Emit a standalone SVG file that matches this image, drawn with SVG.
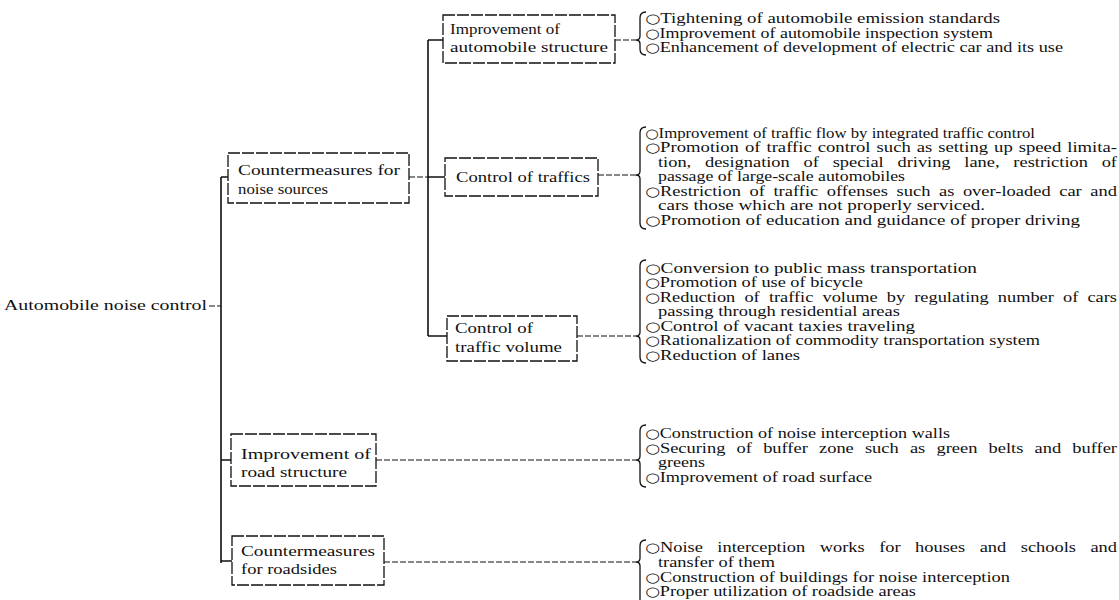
<svg xmlns="http://www.w3.org/2000/svg" width="1119" height="600" viewBox="0 0 1119 600">
<style>
text{font-family:"Liberation Serif","Times New Roman",serif;font-size:14px;fill:#111}
.b{font-family:"DejaVu Sans",sans-serif;font-size:13px}
.box{fill:#fff;stroke:#111;stroke-width:1.3;stroke-dasharray:12 2}
.trunk{fill:none;stroke:#111;stroke-width:1.6}
.dash{fill:none;stroke:#111;stroke-width:1.2;stroke-dasharray:6 2}
.brace{fill:none;stroke:#111;stroke-width:1.3}
</style>
<rect width="1119" height="600" fill="#fff"/>
<g id="connectors">
<path class="dash" d="M209 306 H221"/>
<path class="trunk" d="M221 177 V563 M221 177 H228 M221 460 H231 M221 561 H232"/>
<path class="dash" d="M409 177 H428"/>
<path class="trunk" d="M428 40 V336 M428 40 H443 M428 177 H445 M428 336 H447"/>
<path class="dash" d="M615 40 H636 M598 175 H636 M577 336 H636 M376 460 H636 M384 562 H636"/>
<path class="brace" d="M646 12 Q640 12 640 18 L640 36 Q640 40 636 40 Q640 40 640 44 L640 49 Q640 55 646 55"/>
<path class="brace" d="M646 127 Q640 127 640 133 L640 171 Q640 175 636 175 Q640 175 640 179 L640 223 Q640 229 646 229"/>
<path class="brace" d="M646 260 Q640 260 640 266 L640 332 Q640 336 636 336 Q640 336 640 340 L640 357 Q640 363 646 363"/>
<path class="brace" d="M646 425 Q640 425 640 431 L640 456 Q640 460 636 460 Q640 460 640 464 L640 481 Q640 487 646 487"/>
<path class="brace" d="M646 540 Q640 540 640 546 L640 558 Q640 562 636 562 Q640 562 640 566 L640 600"/>
</g>
<g id="root">
<text x="4" y="310" textLength="203" lengthAdjust="spacingAndGlyphs">Automobile noise control</text>
</g>
<g id="n-noise-sources">
<rect class="box" x="228" y="153" width="181" height="50"/>
<text x="238" y="175" textLength="162" lengthAdjust="spacingAndGlyphs">Countermeasures for</text>
<text x="238" y="194" textLength="90" lengthAdjust="spacingAndGlyphs">noise sources</text>
</g>
<g id="n-auto-structure">
<rect class="box" x="443" y="15" width="172" height="48"/>
<text x="450" y="34" textLength="110" lengthAdjust="spacingAndGlyphs">Improvement of</text>
<text x="450" y="52" textLength="158" lengthAdjust="spacingAndGlyphs">automobile structure</text>
</g>
<g id="n-traffics">
<rect class="box" x="445" y="158" width="153" height="38"/>
<text x="456" y="182" textLength="134" lengthAdjust="spacingAndGlyphs">Control of traffics</text>
</g>
<g id="n-volume">
<rect class="box" x="447" y="316" width="130" height="45"/>
<text x="455" y="333" textLength="78" lengthAdjust="spacingAndGlyphs">Control of</text>
<text x="455" y="352" textLength="107" lengthAdjust="spacingAndGlyphs">traffic volume</text>
</g>
<g id="n-road-structure">
<rect class="box" x="231" y="434" width="145" height="52"/>
<text x="241" y="459" textLength="130" lengthAdjust="spacingAndGlyphs">Improvement of</text>
<text x="241" y="477" textLength="106" lengthAdjust="spacingAndGlyphs">road structure</text>
</g>
<g id="n-roadsides">
<rect class="box" x="232" y="536" width="152" height="49"/>
<text x="241" y="556" textLength="134" lengthAdjust="spacingAndGlyphs">Countermeasures</text>
<text x="241" y="574" textLength="96" lengthAdjust="spacingAndGlyphs">for roadsides</text>
</g>
<g id="list-auto-structure">
<text x="645" y="23" textLength="355" lengthAdjust="spacingAndGlyphs"><tspan class="b">○</tspan>Tightening of automobile emission standards</text>
<text x="645" y="38" textLength="348" lengthAdjust="spacingAndGlyphs"><tspan class="b">○</tspan>Improvement of automobile inspection system</text>
<text x="645" y="52" textLength="418" lengthAdjust="spacingAndGlyphs"><tspan class="b">○</tspan>Enhancement of development of electric car and its use</text>
</g>
<g id="list-traffics">
<text x="645" y="138" textLength="390" lengthAdjust="spacingAndGlyphs"><tspan class="b">○</tspan>Improvement of traffic flow by integrated traffic control</text>
<text x="645" y="152" textLength="472" lengthAdjust="spacingAndGlyphs" style="word-spacing:1px"><tspan class="b">○</tspan>Promotion of traffic control such as setting up speed limita-</text>
<text x="658" y="167" textLength="459" lengthAdjust="spacingAndGlyphs" style="word-spacing:7px">tion, designation of special driving lane, restriction of</text>
<text x="658" y="181" textLength="247" lengthAdjust="spacingAndGlyphs">passage of large-scale automobiles</text>
<text x="645" y="196" textLength="472" lengthAdjust="spacingAndGlyphs" style="word-spacing:3px"><tspan class="b">○</tspan>Restriction of traffic offenses such as over-loaded car and</text>
<text x="658" y="210" textLength="327" lengthAdjust="spacingAndGlyphs">cars those which are not properly serviced.</text>
<text x="645" y="225" textLength="435" lengthAdjust="spacingAndGlyphs"><tspan class="b">○</tspan>Promotion of education and guidance of proper driving</text>
</g>
<g id="list-volume">
<text x="645" y="273" textLength="332" lengthAdjust="spacingAndGlyphs"><tspan class="b">○</tspan>Conversion to public mass transportation</text>
<text x="645" y="287" textLength="218" lengthAdjust="spacingAndGlyphs"><tspan class="b">○</tspan>Promotion of use of bicycle</text>
<text x="645" y="302" textLength="472" lengthAdjust="spacingAndGlyphs" style="word-spacing:3.5px"><tspan class="b">○</tspan>Reduction of traffic volume by regulating number of cars</text>
<text x="658" y="316" textLength="242" lengthAdjust="spacingAndGlyphs">passing through residential areas</text>
<text x="645" y="331" textLength="270" lengthAdjust="spacingAndGlyphs"><tspan class="b">○</tspan>Control of vacant taxies traveling</text>
<text x="645" y="345" textLength="395" lengthAdjust="spacingAndGlyphs"><tspan class="b">○</tspan>Rationalization of commodity transportation system</text>
<text x="645" y="360" textLength="155" lengthAdjust="spacingAndGlyphs"><tspan class="b">○</tspan>Reduction of lanes</text>
</g>
<g id="list-road-structure">
<text x="645" y="438" textLength="305" lengthAdjust="spacingAndGlyphs"><tspan class="b">○</tspan>Construction of noise interception walls</text>
<text x="645" y="453" textLength="472" lengthAdjust="spacingAndGlyphs" style="word-spacing:5px"><tspan class="b">○</tspan>Securing of buffer zone such as green belts and buffer</text>
<text x="658" y="467" textLength="47" lengthAdjust="spacingAndGlyphs">greens</text>
<text x="645" y="482" textLength="227" lengthAdjust="spacingAndGlyphs"><tspan class="b">○</tspan>Improvement of road surface</text>
</g>
<g id="list-roadsides">
<text x="645" y="552" textLength="472" lengthAdjust="spacingAndGlyphs" style="word-spacing:7.5px"><tspan class="b">○</tspan>Noise interception works for houses and schools and</text>
<text x="658" y="567" textLength="117" lengthAdjust="spacingAndGlyphs">transfer of them</text>
<text x="645" y="582" textLength="365" lengthAdjust="spacingAndGlyphs"><tspan class="b">○</tspan>Construction of buildings for noise interception</text>
<text x="645" y="596" textLength="271" lengthAdjust="spacingAndGlyphs"><tspan class="b">○</tspan>Proper utilization of roadside areas</text>
</g>
</svg>
